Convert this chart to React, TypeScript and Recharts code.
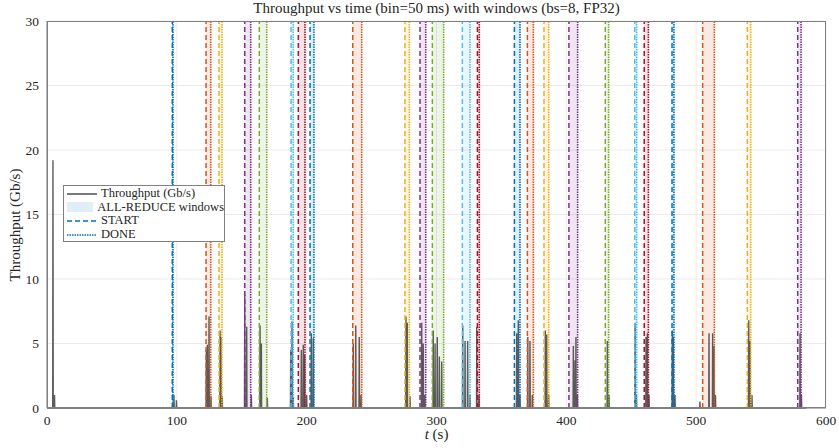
import React from 'react';
import {
  ComposedChart,
  Line,
  XAxis,
  YAxis,
  CartesianGrid,
  ReferenceArea,
  ReferenceLine,
} from 'recharts';

// all-reduce windows (s)
const startTimes = [
  96.5, 122.5, 132.5, 152.3, 163.5, 188, 193.6, 202.6, 235.5, 275.7, 287.3, 296.8, 319.9,
  331.5, 360, 370, 382.8, 402, 430, 452.7, 460, 481.4, 505, 539.4, 578.2,
];
const doneTimes = [
  97, 126.1, 134.8, 156.9, 169.2, 189.7, 198.7, 205.6, 242.4, 279.1, 291.7, 305.5, 325.8,
  333, 364.3, 374.6, 386.4, 408.7, 432.6, 454.2, 463.2, 482.9, 514, 542, 580.8,
];

// throughput spikes (s, Gb/s); everything else sits at 0
const spikeTimes = [
  4.6, 5.8, 97.8, 99.7, 122.7, 123.5, 124.8, 126.3, 133.3, 134, 135, 152.3, 153.8, 157.4,
  164.1, 165.1, 169.7, 187.7, 188.7, 189.7, 195.9, 197.4, 198.5, 200, 203.6, 205.1, 235.9,
  237.8, 240.5, 241.9, 276.5, 277.5, 279.6, 288.6, 289.8, 291, 297.5, 298.9, 300.6, 302.2,
  304, 320.2, 322, 324, 325.8, 331, 332.7, 361.8, 363, 364.3, 370.3, 372, 373.8, 383.8,
  384.9, 386.4, 405.4, 406.7, 407.4, 408.5, 431.6, 432.9, 452.9, 454, 461.4, 462.4, 463.7,
  481.6, 482.4, 483.7, 502.9, 509.9, 512.7, 513.7, 514.9, 540.5, 541.5, 543, 580, 581.1,
];
const spikeValues = [
  19.2, 1.0, 1.0, 0.6, 4.5, 4.9, 7.1, 0.9, 6.0, 5.5, 0.9, 8.8, 6.3, 1.0, 6.4, 5.0, 0.8, 4.5,
  6.7, 0.8, 4.5, 4.9, 4.1, 1.0, 5.8, 5.4, 5.0, 6.4, 5.5, 1.0, 7.1, 6.6, 0.9, 6.6, 5.0, 1.0,
  6.0, 5.0, 5.5, 4.0, 3.6, 6.4, 5.2, 5.2, 1.0, 6.3, 1.0, 5.8, 6.8, 1.0, 5.5, 5.2, 1.0, 6.0,
  5.7, 1.0, 4.8, 3.7, 5.5, 1.0, 5.2, 1.0, 6.6, 1.0, 5.5, 5.8, 1.0, 6.0, 5.5, 1.0, 0.5, 5.8,
  5.8, 4.8, 1.0, 6.8, 5.2, 1.0, 5.8, 1.0,
];
const seriesEnd = 585;

const xTicks = [0, 100, 200, 300, 400, 500, 600];
const yTicks = [0, 5, 10, 15, 20, 25, 30];

const palette = ['#0072BD', '#D95319', '#EDB120', '#7E2F8E', '#77AC30', '#4DBEEE', '#A2142F'];

const throughput: { t: number; v: number }[] = [{ t: 0, v: 0 }];
spikeTimes.forEach((t, i) => {
  throughput.push({ t: t - 0.2, v: 0 }, { t, v: spikeValues[i] }, { t: t + 0.2, v: 0 });
});
throughput.push({ t: seriesEnd, v: 0 });

const font = '"Liberation Serif", "DejaVu Serif", serif';
const tickStyle = { fontSize: 13.5, fill: '#262626', fontFamily: font };

export default function App() {
  return (
    <div style={{ position: 'absolute', left: 0, top: 0, width: 839, height: 448, background: '#fff' }}>
      <ComposedChart
        width={839}
        height={448}
        data={throughput}
        margin={{ top: 21, right: 13, left: 0, bottom: 0 }}
      >
        <CartesianGrid stroke="#ebebeb" strokeWidth={1} />
        <XAxis
          dataKey="t"
          type="number"
          domain={[0, 600]}
          ticks={xTicks}
          height={40}
          axisLine={{ stroke: '#808080' }}
          tickLine={false}
          tickSize={4}
          tickMargin={3}
          tick={tickStyle}
        />
        <YAxis
          type="number"
          domain={[0, 30]}
          ticks={yTicks}
          width={47}
          axisLine={{ stroke: '#808080' }}
          tickLine={false}
          tickSize={4}
          tickMargin={4}
          tick={tickStyle}
        />
        {startTimes.map((s, i) => (
          <ReferenceArea
            key={`w${i}`}
            x1={s}
            x2={doneTimes[i]}
            y1={0}
            y2={30}
            fill={palette[i % palette.length]}
            fillOpacity={0.12}
            stroke="none"
          />
        ))}
        <Line
          dataKey="v"
          type="linear"
          stroke="#404040"
          strokeOpacity={0.85}
          strokeWidth={1.4}
          dot={false}
          isAnimationActive={false}
        />
        {startTimes.map((s, i) => (
          <ReferenceLine
            key={`s${i}`}
            x={s}
            stroke={palette[i % palette.length]}
            strokeWidth={1.5}
            strokeDasharray="5 3"
          />
        ))}
        {doneTimes.map((d, i) => (
          <ReferenceLine
            key={`d${i}`}
            x={d}
            stroke={palette[i % palette.length]}
            strokeWidth={1.6}
            strokeDasharray="1.5 1"
          />
        ))}
      </ComposedChart>

      {/* box around the axes */}
      <div
        style={{
          position: 'absolute',
          left: 47,
          top: 21,
          width: 779,
          height: 387,
          border: '1px solid #808080',
          boxSizing: 'border-box',
          pointerEvents: 'none',
        }}
      />

      <div
        style={{
          position: 'absolute',
          left: 47,
          width: 779,
          top: 0,
          textAlign: 'center',
          fontFamily: font,
          fontSize: 15,
          color: '#262626',
        }}
      >
        Throughput vs time (bin=50 ms) with windows (bs=8, FP32)
      </div>
      <div
        style={{
          position: 'absolute',
          left: 47,
          width: 779,
          top: 426,
          textAlign: 'center',
          fontFamily: font,
          fontSize: 15,
          color: '#262626',
        }}
      >
        <i>t</i> (s)
      </div>
      <div
        style={{
          position: 'absolute',
          left: 15,
          top: 225,
          transform: 'translate(-50%, -50%) rotate(-90deg)',
          whiteSpace: 'nowrap',
          fontFamily: font,
          fontSize: 15,
          color: '#262626',
        }}
      >
        Throughput (Gb/s)
      </div>

      {/* legend */}
      <div
        style={{
          position: 'absolute',
          left: 63,
          top: 185,
          width: 162,
          height: 57,
          border: '1px solid #808080',
          background: '#fff',
          boxSizing: 'border-box',
          fontFamily: font,
          fontSize: 12.5,
          color: '#262626',
          padding: '1px 0 0 3px',
          lineHeight: '13.6px',
        }}
      >
        {[
          { label: 'Throughput (Gb/s)', kind: 'line' },
          { label: 'ALL-REDUCE windows', kind: 'patch' },
          { label: 'START', kind: 'dash' },
          { label: 'DONE', kind: 'dot' },
        ].map((row) => (
          <div key={row.label} style={{ display: 'flex', alignItems: 'center', height: 13.6 }}>
            <svg width={30} height={10} style={{ marginRight: 4 }}>
              {row.kind === 'line' && <line x1={0} y1={5} x2={30} y2={5} stroke="#404040" strokeWidth={1.4} />}
              {row.kind === 'patch' && <rect x={0} y={0} width={30} height={10} fill="#0072BD" fillOpacity={0.12} />}
              {row.kind === 'dash' && (
                <line x1={0} y1={5} x2={30} y2={5} stroke="#0072BD" strokeWidth={1.5} strokeDasharray="5 3" />
              )}
              {row.kind === 'dot' && (
                <line x1={0} y1={5} x2={30} y2={5} stroke="#0072BD" strokeWidth={1.6} strokeDasharray="1.5 1" />
              )}
            </svg>
            <span style={{ whiteSpace: 'nowrap' }}>{row.label}</span>
          </div>
        ))}
      </div>
    </div>
  );
}
